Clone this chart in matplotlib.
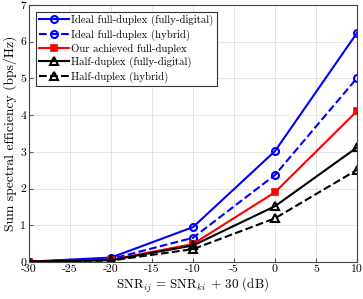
import matplotlib
matplotlib.use("Agg")
import matplotlib.pyplot as plt

plt.rcParams['font.family'] = 'serif'
plt.rcParams['font.serif'] = ['cmr10', 'DejaVu Serif']
plt.rcParams['mathtext.fontset'] = 'cm'
plt.rcParams['axes.unicode_minus'] = False
plt.rcParams['axes.formatter.use_mathtext'] = False

snr = [-30, -20, -10, 0, 10]
ideal_fd_digital = [0.01, 0.12, 0.95, 3.02, 6.24]
ideal_fd_hybrid = [0.01, 0.08, 0.66, 2.37, 5.01]
our_fd = [0.01, 0.06, 0.49, 1.90, 4.11]
hd_digital = [0.01, 0.05, 0.45, 1.52, 3.12]
hd_hybrid = [0.01, 0.04, 0.35, 1.19, 2.51]

labels = ['Ideal full-duplex (fully-digital)', 'Ideal full-duplex (hybrid)',
          'Our achieved full-duplex', 'Half-duplex (fully-digital)', 'Half-duplex (hybrid)']

fig = plt.figure(figsize=(3.63, 2.99), dpi=100)
ax = fig.add_axes([29/363, 1 - 262/299, (357-29)/363, (262-5)/299])

lw = 1.5
ax.plot(snr, ideal_fd_digital, '-', color='#0000ff', marker='o', mfc='none', ms=5, mew=1.5, lw=lw, label=labels[0])
ax.plot(snr, ideal_fd_hybrid, '--', color='#0000ff', marker='o', mfc='none', ms=5, mew=1.5, lw=lw, label=labels[1])
ax.plot(snr, our_fd, '-', color='#ff0000', marker='s', mfc='#ff0000', ms=4, mew=1.2, lw=lw, label=labels[2])
ax.plot(snr, hd_digital, '-', color='black', marker='^', mfc='none', ms=6, mew=1.5, lw=lw, label=labels[3])
ax.plot(snr, hd_hybrid, '--', color='black', marker='^', mfc='none', ms=6, mew=1.5, lw=lw, label=labels[4])

ax.set_xlim(-30, 10)
ax.set_ylim(0, 7)
ax.set_xticks([-30, -25, -20, -15, -10, -5, 0, 5, 10])
ax.set_yticks(range(0, 8))
ax.tick_params(labelsize=8.5, direction='in', length=3, color='#555555', pad=2)
ax.grid(True, color='#e6e6e6', lw=0.7)
ax.set_axisbelow(True)
for s in ax.spines.values():
    s.set_color('#444444')
    s.set_linewidth(0.8)

ax.set_xlabel(r'SNR$_{ij}$ = SNR$_{ki}$ + 30 (dB)', fontsize=9.4, labelpad=1)
ax.set_ylabel('Sum spectral efficiency (bps/Hz)', fontsize=9.8, labelpad=2)

leg = ax.legend(loc='upper left', fontsize=7.8, fancybox=False, edgecolor='#333333',
                framealpha=1, borderpad=0.3, labelspacing=0.3, handlelength=2.8,
                handletextpad=0.2, borderaxespad=0.6)
leg.get_frame().set_linewidth(0.8)

fig.savefig('out.png', dpi=100)
